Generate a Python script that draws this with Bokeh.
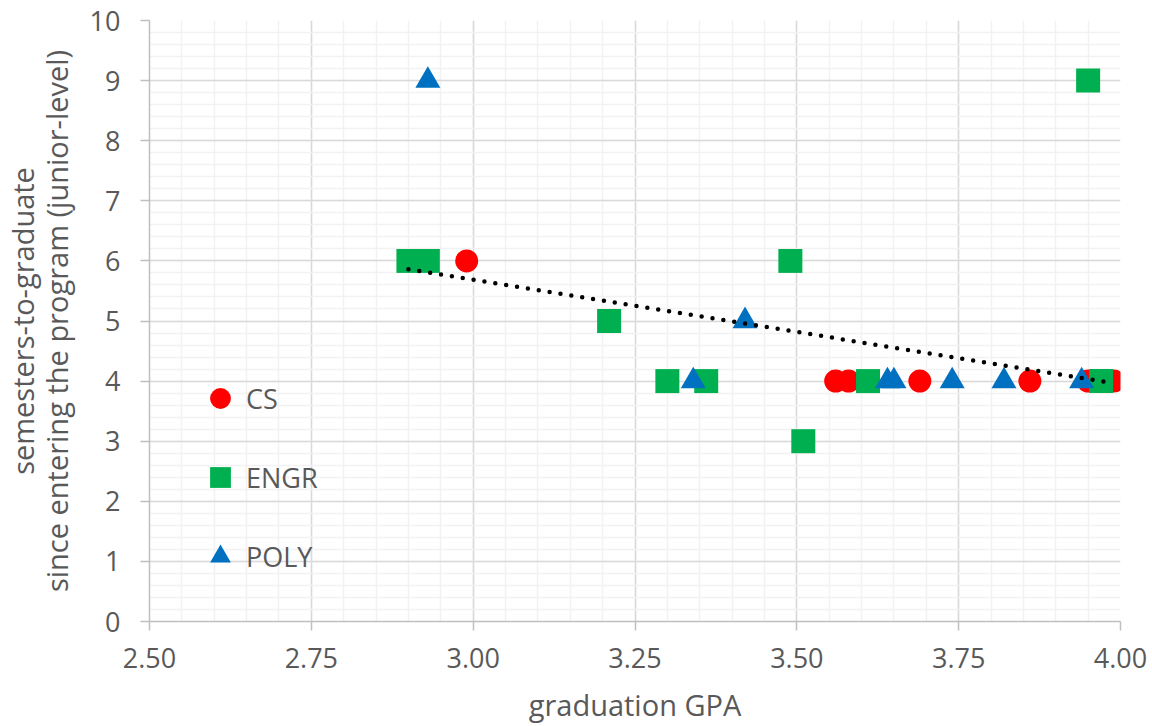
import numpy as np
from bokeh.plotting import figure
from bokeh.models import Range1d, Legend, LegendItem, FixedTicker, NumeralTickFormatter
from bokeh.embed import file_html
from bokeh.resources import INLINE

# ---- data ----
cs_gpa = [2.99, 3.56, 3.58, 3.69, 3.86, 3.95, 3.99]
cs_sem = [6, 4, 4, 4, 4, 4, 4]
engr_gpa = [2.90, 2.93, 3.21, 3.30, 3.36, 3.49, 3.51, 3.61, 3.95, 3.97]
engr_sem = [6, 6, 5, 4, 4, 6, 3, 4, 9, 4]
poly_gpa = [2.93, 3.34, 3.42, 3.64, 3.65, 3.74, 3.82, 3.94]
poly_sem = [9, 4, 5, 4, 4, 4, 4, 4]

x_ticks = [2.50, 2.75, 3.00, 3.25, 3.50, 3.75, 4.00]
y_ticks = [0, 1, 2, 3, 4, 5, 6, 7, 8, 9, 10]
x_minor = [round(2.50 + 0.05 * i, 2) for i in range(31)]
y_minor = [round(0.2 * i, 1) for i in range(51)]

FONT = "Open Sans"
TXT = "#595959"

p = figure(width=1152, height=726, output_backend="svg", toolbar_location=None,
           x_range=Range1d(2.5, 4.0), y_range=Range1d(0, 10),
           min_border_left=148, min_border_right=32, min_border_top=20,
           min_border_bottom=104)
p.outline_line_color = None
p.background_fill_color = "white"
p.border_fill_color = "white"

xt = FixedTicker(ticks=x_ticks, minor_ticks=x_minor)
yt = FixedTicker(ticks=y_ticks, minor_ticks=y_minor)
p.xaxis.ticker = xt
p.yaxis.ticker = yt
p.xgrid.ticker = xt
p.ygrid.ticker = yt
p.xaxis.formatter = NumeralTickFormatter(format="0.00")

for g in (p.xgrid, p.ygrid):
    g.grid_line_color = "#D9D9D9"
    g.grid_line_width = 1.5
    g.minor_grid_line_color = "#F2F2F2"
    g.minor_grid_line_width = 1.5

for ax in (p.xaxis, p.yaxis):
    ax.axis_line_color = "#BFBFBF"
    ax.axis_line_width = 1.5
    ax.major_tick_line_color = "#BFBFBF"
    ax.major_tick_line_width = 1.5
    ax.major_tick_out = 9
    ax.major_tick_in = 0
    ax.minor_tick_line_color = None
    ax.major_label_text_font = FONT
    ax.major_label_text_font_size = "27px"
    ax.major_label_text_color = TXT
    ax.axis_label_text_font = FONT
    ax.axis_label_text_font_size = "29px"
    ax.axis_label_text_font_style = "normal"
    ax.axis_label_text_color = TXT

p.xaxis.axis_label = "graduation GPA"
p.yaxis.axis_label = "semesters-to-graduate\nsince entering the program (junior-level)"
p.yaxis.axis_label_text_line_height = 0.85
p.xaxis.major_label_standoff = 17
p.yaxis.major_label_standoff = 20
p.xaxis.axis_label_standoff = 14
p.yaxis.axis_label_standoff = 11

r_cs = p.scatter(cs_gpa, cs_sem, marker="circle", size=23,
                 fill_color="#FF0000", line_color=None)
r_engr = p.scatter(engr_gpa, engr_sem, marker="square", size=24,
                   fill_color="#00B050", line_color=None)
r_poly = p.scatter(poly_gpa, poly_sem, marker="triangle", size=25,
                   fill_color="#0070C0", line_color=None)

# linear trendline over all points
all_x = np.array(cs_gpa + engr_gpa + poly_gpa)
all_y = np.array(cs_sem + engr_sem + poly_sem)
slope, intercept = np.polyfit(all_x, all_y, 1)
tx = np.array([all_x.min(), all_x.max()])
p.line(tx, slope * tx + intercept, line_color="black", line_width=4.5,
       line_dash="0 11", line_cap="round")

legend = Legend(items=[LegendItem(label="CS", renderers=[r_cs]),
                       LegendItem(label="ENGR", renderers=[r_engr]),
                       LegendItem(label="POLY", renderers=[r_poly])],
                location=(45, 39), orientation="vertical",
                glyph_width=52, glyph_height=52, spacing=27,
                label_standoff=-28, padding=0, margin=0,
                border_line_color=None, background_fill_alpha=0,
                label_text_font=FONT, label_text_font_size="27px",
                label_text_color=TXT)
p.add_layout(legend, "center")

open("out.html", "w").write(file_html(p, INLINE))
